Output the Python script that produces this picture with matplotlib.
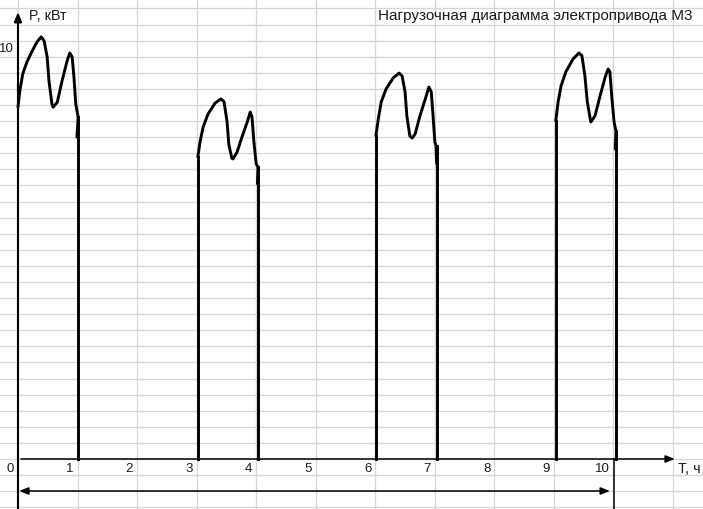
import matplotlib
matplotlib.use('Agg')
import matplotlib.pyplot as plt

plt.rcParams['font.family'] = ['Liberation Sans', 'DejaVu Sans']

# Участки работы (время, ч; мощность, кВт)
seg1_t = [0.00, 0.03, 0.08, 0.15, 0.24, 0.32, 0.39, 0.44, 0.49, 0.52, 0.57, 0.59,
          0.66, 0.74, 0.82, 0.87, 0.91, 0.94, 0.97, 1.01, 0.99]
seg1_p = [8.56, 8.95, 9.37, 9.66, 9.93, 10.15, 10.27, 10.17, 9.78, 9.20, 8.64, 8.56,
          8.68, 9.20, 9.66, 9.88, 9.78, 9.29, 8.64, 8.32, 7.83]

seg2_t = [3.02, 3.06, 3.11, 3.19, 3.31, 3.41, 3.46, 3.51, 3.54, 3.59, 3.61,
          3.68, 3.76, 3.85, 3.90, 3.93, 3.96, 4.00, 4.03, 4.02]
seg2_p = [7.35, 7.74, 8.08, 8.39, 8.66, 8.76, 8.69, 8.22, 7.66, 7.32, 7.30,
          7.47, 7.83, 8.20, 8.44, 8.32, 7.74, 7.18, 7.10, 6.69]

seg3_t = [6.01, 6.05, 6.10, 6.18, 6.30, 6.40, 6.45, 6.50, 6.53, 6.58, 6.62,
          6.67, 6.75, 6.84, 6.90, 6.94, 6.97, 7.00, 7.02, 7.03]
seg3_p = [7.86, 8.27, 8.69, 9.00, 9.27, 9.39, 9.32, 8.93, 8.35, 7.86, 7.81,
          7.91, 8.35, 8.76, 9.05, 8.93, 8.35, 7.71, 7.62, 7.18]

seg4_t = [9.03, 9.07, 9.12, 9.20, 9.32, 9.42, 9.47, 9.52, 9.56, 9.61, 9.62,
          9.69, 9.77, 9.86, 9.91, 9.94, 9.97, 10.01, 10.04, 10.03]
seg4_p = [8.22, 8.69, 9.08, 9.42, 9.73, 9.88, 9.81, 9.32, 8.69, 8.27, 8.20,
          8.35, 8.81, 9.29, 9.49, 9.42, 8.83, 8.20, 7.98, 7.54]

# Отключение двигателя (время, мощность перед спадом)
drop_t = [1.01, 4.03, 7.04, 10.04]
drop_p = [8.32, 7.10, 7.62, 7.98]

x_ticks = list(range(0, 11))
y_label_value = 10
cycle_end = 10.01

title = 'Нагрузочная диаграмма электропривода М3'

fig = plt.figure(figsize=(7.03, 5.10), dpi=100)
ax = fig.add_axes([0, 0, 1, 1])
ax.set_xlim(-0.302, 11.503)
ax.set_ylim(-1.217, 11.192)
ax.axis('off')

# Сетка листа Excel
grid_c = '#d6d6d6'
for k in range(-1, 13):
    ax.axvline(k, color=grid_c, lw=0.9, zorder=0)
for m in range(-3, 29):
    ax.axhline(m * 0.3915, color=grid_c, lw=0.9, zorder=0)

# Оси
ax.annotate('', xy=(0, 10.876), xytext=(0, -1.25),
            arrowprops=dict(arrowstyle='-|>,head_length=0.55,head_width=0.22',
                            color='black', lw=1.5, shrinkA=0, shrinkB=0))
ax.annotate('', xy=(11.03, 0), xytext=(0.05, 0),
            arrowprops=dict(arrowstyle='-|>,head_length=0.55,head_width=0.22',
                            color='black', lw=1.1, shrinkA=0, shrinkB=0))
ax.annotate('', xy=(9.94, -0.779), xytext=(0.02, -0.779),
            arrowprops=dict(arrowstyle='<|-|>,head_length=0.55,head_width=0.22',
                            color='black', lw=1.1, shrinkA=0, shrinkB=0))
ax.plot([cycle_end, cycle_end], [0, -1.25], color='black', lw=1.1)

# Нагрузочная диаграмма
for ts, ps in [(seg1_t, seg1_p), (seg2_t, seg2_p), (seg3_t, seg3_p), (seg4_t, seg4_p)]:
    ax.plot(ts, ps, color='black', lw=2.1, solid_joinstyle='round', solid_capstyle='round')
    if ts[0] > 0:
        ax.plot([ts[0], ts[0]], [0, ps[0]], color='black', lw=2.1)
for t, p in zip(drop_t, drop_p):
    ax.plot([t, t], [0, p], color='black', lw=2.1)

# Подписи
txt_c = '#1a1a1a'
for k in x_ticks:
    ax.text(k - 0.067, -0.22, str(k), ha='right', va='center', fontsize=9.5, color=txt_c)
ax.text(-0.067, y_label_value, str(y_label_value), ha='right', va='center', fontsize=9.5, color=txt_c)
ax.text(0.185, 10.80, 'P, кВт', ha='left', va='center', fontsize=10.3, color=txt_c)
ax.text(11.08, -0.22, 'T, ч', ha='left', va='center', fontsize=10.3, color=txt_c)
ax.text(6.045, 10.81, title, ha='left', va='center', fontsize=11, color=txt_c)

fig.savefig('out.png', dpi=100)
